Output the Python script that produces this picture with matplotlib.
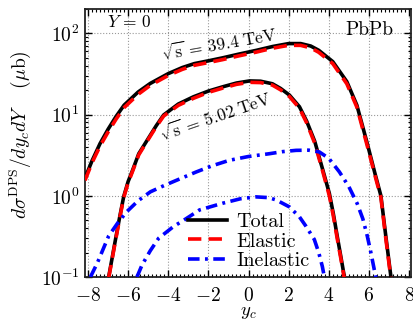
import matplotlib
matplotlib.use("Agg")
import matplotlib.pyplot as plt
from matplotlib.ticker import MultipleLocator, LogLocator, NullFormatter
from matplotlib.lines import Line2D

plt.rcParams['font.family'] = ['cmr10']
plt.rcParams['mathtext.fontset'] = 'cm'
plt.rcParams['axes.formatter.use_mathtext'] = True

# ---- data ----
# sqrt(s) = 39.4 TeV
x_hi_tot = [-8.15, -7.8, -7.4, -7.0, -6.6, -6.2, -5.5, -4.9, -4.0, -3.3, -2.7, -2.0, -1.3, -0.5, 0.4, 1.2,
            2.0, 2.6, 3.1, 3.5, 4.2, 4.9, 5.4, 5.9, 6.3, 6.6, 6.85, 7.1]
y_hi_tot = [1.65, 2.7, 4.4, 6.6, 9.5, 13.1, 19.0, 24.2, 32.0, 38.0, 42.5, 46.0, 50.0, 55.5, 62.0, 69.0,
            75.0, 75.0, 70.0, 62.0, 45.0, 25.5, 13.1, 4.6, 1.9, 1.0, 0.31, 0.1]
y_hi_el = [1.55, 2.55, 4.1, 6.1, 8.8, 12.2, 17.8, 22.9, 30.4, 36.1, 40.5, 43.8, 47.5, 52.8, 59.0, 65.8,
           71.4, 71.3, 66.4, 58.6, 42.5, 24.0, 12.4, 4.3, 1.8, 0.95, 0.29, 0.095]
x_hi_inel = [-7.88, -7.54, -6.97, -6.5, -6.06, -5.5, -4.89, -4.2, -3.57, -2.6, -1.8, -0.95, 0.0, 1.04, 1.7,
             2.37, 3.0, 3.53, 4.0, 4.53, 5.0, 5.42, 5.7, 5.92, 6.1, 6.27, 6.35]
y_hi_inel = [0.1, 0.148, 0.32, 0.47, 0.64, 0.87, 1.12, 1.34, 1.56, 1.97, 2.35, 2.74, 3.05, 3.3, 3.5,
             3.63, 3.65, 3.47, 2.9, 1.97, 1.3, 0.8, 0.52, 0.32, 0.2, 0.123, 0.1]

# sqrt(s) = 5.02 TeV
x_lo_tot = [-6.97, -6.8, -6.63, -6.42, -6.22, -6.0, -5.8, -5.47, -5.06, -4.6, -4.23, -3.5, -2.74, -2.0, -1.29,
            -0.6, 0.05, 0.6, 1.19, 1.6, 2.04, 2.54, 2.9, 3.3, 3.7, 4.03, 4.23, 4.43, 4.6, 4.78]
y_lo_tot = [0.1, 0.17, 0.29, 0.55, 0.98, 1.5, 2.0, 3.3, 4.8, 7.3, 9.9, 13.5, 16.6, 19.5, 22.0,
            24.5, 26.0, 25.8, 24.0, 21.0, 17.4, 12.5, 8.3, 4.7, 2.1, 1.07, 0.6, 0.31, 0.18, 0.1]
y_lo_el = [0.097, 0.165, 0.28, 0.53, 0.95, 1.45, 1.94, 3.2, 4.67, 7.1, 9.6, 13.0, 15.9, 18.8, 21.2,
           23.6, 25.0, 24.8, 23.1, 20.2, 16.7, 12.0, 7.9, 4.45, 2.0, 1.0, 0.56, 0.29, 0.17, 0.095]
x_lo_inel = [-5.56, -5.31, -4.9, -4.48, -3.73, -3.23, -2.44, -1.29, -0.4, 0.38, 1.0, 1.38, 2.04, 2.54, 2.87,
             3.28, 3.5, 3.68, 3.78]
y_lo_inel = [0.1, 0.14, 0.21, 0.3, 0.42, 0.5, 0.67, 0.81, 0.92, 0.97, 0.95, 0.89, 0.73, 0.55, 0.42,
             0.29, 0.2, 0.135, 0.1]

legend_labels = ["Total", "Elastic", "Inelastic"]
energy_labels = [r"$\sqrt{\mathrm{s}}\,=\,39.4\;\mathrm{TeV}$", r"$\sqrt{\mathrm{s}}\,=\,5.02\;\mathrm{TeV}$"]

# ---- figure ----
fig = plt.figure(figsize=(4.13, 3.22), dpi=100)
ax = fig.add_axes([85/413, 45/322, 326/413, 268/322])

lw = 2.6
red_dash = (3.7, 2.0)
blue_dd = (3.2, 1.5, 0.8, 1.5)

for xt, yt, ye in [(x_hi_tot, y_hi_tot, y_hi_el), (x_lo_tot, y_lo_tot, y_lo_el)]:
    ax.plot(xt, yt, color='black', lw=lw, solid_capstyle='butt', zorder=3)
    ax.plot(xt, ye, color='red', lw=lw, dashes=red_dash, zorder=4)
for xi, yi in [(x_hi_inel, y_hi_inel), (x_lo_inel, y_lo_inel)]:
    ax.plot(xi, yi, color='blue', lw=lw, dashes=blue_dd, zorder=4)

ax.set_yscale('log')
ax.set_xlim(-8.15, 8.1)
ax.set_ylim(0.1, 200)
ax.xaxis.set_major_locator(MultipleLocator(2))
ax.xaxis.set_minor_locator(MultipleLocator(0.2))
ax.yaxis.set_major_locator(LogLocator(base=10, numticks=10))
ax.yaxis.set_minor_locator(LogLocator(base=10, subs=range(2, 10), numticks=10))
ax.yaxis.set_minor_formatter(NullFormatter())

ax.tick_params(which='both', direction='in', top=True, right=True, labelsize=14)
ax.tick_params(which='major', length=5, width=1.0, pad=7)
ax.tick_params(which='minor', length=2.5, width=0.8)
ax.tick_params(axis='y', which='major', pad=4)
for s in ax.spines.values():
    s.set_linewidth(1.3)
    s.set_color('#222222')

ax.grid(True, which='major', linestyle=':', color='#999999', lw=0.8)

ax.set_xlabel(r"$y_c$", fontsize=13.5)
ax.xaxis.set_label_coords(0.5, -0.097)
ax.set_ylabel(r"$d\sigma^{\mathrm{DPS}}/dy_c dY\quad\;(\mu\mathrm{b})$", fontsize=14)
ax.yaxis.set_label_coords(-0.16, 0.53)

ax.text(0.067, 0.95, r"$Y\,=\,0$", transform=ax.transAxes, fontsize=12.5, ha='left', va='center')
ax.text(0.945, 0.955, "PbPb", transform=ax.transAxes, fontsize=14, ha='right', va='top')
ax.text(0.41, 0.868, energy_labels[0], transform=ax.transAxes, fontsize=12.5, ha='center', va='center',
        rotation=10, rotation_mode='anchor')
ax.text(0.40, 0.60, energy_labels[1], transform=ax.transAxes, fontsize=12.5, ha='center', va='center',
        rotation=19, rotation_mode='anchor')

handles = [Line2D([], [], color='black', lw=lw),
           Line2D([], [], color='red', lw=lw, dashes=red_dash),
           Line2D([], [], color='blue', lw=lw, dashes=blue_dd)]
ax.legend(handles, legend_labels, loc='lower left', bbox_to_anchor=(0.31, 0.02), frameon=False,
          fontsize=14.5, handlelength=1.95, handletextpad=0.45, labelspacing=0.05,
          borderpad=0.1, borderaxespad=0.0)

fig.savefig("out.png", dpi=100)
